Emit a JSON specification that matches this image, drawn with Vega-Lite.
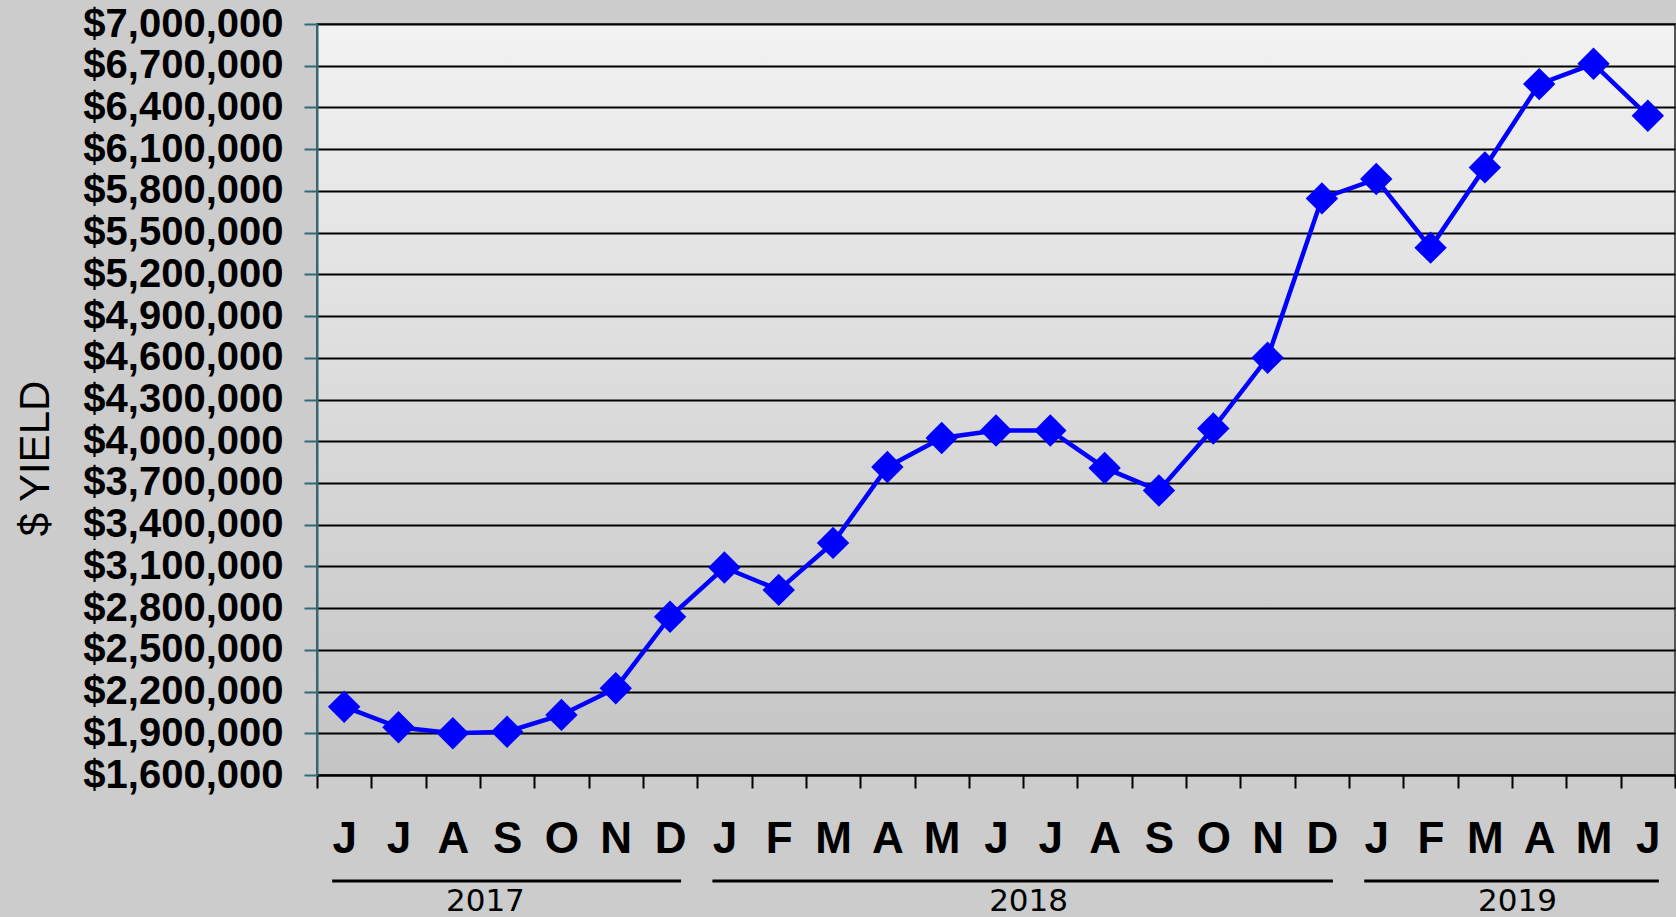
{
  "$schema": "https://vega.github.io/schema/vega-lite/v6.json",
  "width": 1358,
  "height": 751,
  "autosize": "none",
  "padding": {"left": 317, "top": 24, "right": 1, "bottom": 142},
  "background": "#cccccc",
  "config": {
    "view": {
      "stroke": "#555555",
      "strokeWidth": 2,
      "fill": {
        "gradient": "linear",
        "x1": 0, "y1": 0, "x2": 0, "y2": 1,
        "stops": [
          {"offset": 0, "color": "#f2f2f2"},
          {"offset": 1, "color": "#c4c4c4"}
        ]
      }
    }
  },
  "datasets": {
    "monthly": [
      {"month": "2017-06", "amount": 2091000},
      {"month": "2017-07", "amount": 1943000},
      {"month": "2017-08", "amount": 1900000},
      {"month": "2017-09", "amount": 1911000},
      {"month": "2017-10", "amount": 2032000},
      {"month": "2017-11", "amount": 2224000},
      {"month": "2017-12", "amount": 2738000},
      {"month": "2018-01", "amount": 3092000},
      {"month": "2018-02", "amount": 2931000},
      {"month": "2018-03", "amount": 3269000},
      {"month": "2018-04", "amount": 3815000},
      {"month": "2018-05", "amount": 4023000},
      {"month": "2018-06", "amount": 4077000},
      {"month": "2018-07", "amount": 4077000},
      {"month": "2018-08", "amount": 3808000},
      {"month": "2018-09", "amount": 3646000},
      {"month": "2018-10", "amount": 4092000},
      {"month": "2018-11", "amount": 4600000},
      {"month": "2018-12", "amount": 5746000},
      {"month": "2019-01", "amount": 5885000},
      {"month": "2019-02", "amount": 5392000},
      {"month": "2019-03", "amount": 5969000},
      {"month": "2019-04", "amount": 6568000},
      {"month": "2019-05", "amount": 6714000},
      {"month": "2019-06", "amount": 6340000}
    ],
    "years": [
      {"year": "2017", "first": "2017-06", "last": "2017-12", "labelAt": "2017-09"},
      {"year": "2018", "first": "2018-01", "last": "2018-12", "labelAt": "2018-07"},
      {"year": "2019", "first": "2019-01", "last": "2019-06", "labelAt": "2019-04"}
    ]
  },
  "layer": [
    {
      "data": {"name": "monthly"},
      "mark": {
        "type": "line",
        "color": "#0000ff",
        "strokeWidth": 4.5,
        "point": {"shape": "diamond", "size": 1050, "filled": true, "color": "#0000ff"}
      },
      "encoding": {
        "x": {
          "field": "month",
          "type": "ordinal",
          "title": null,
          "scale": {"type": "band", "paddingInner": 0, "paddingOuter": 0},
          "axis": {
            "orient": "bottom",
            "tickBand": "extent",
            "labelExpr": "isString(datum.value) && length(datum.value) >= 7 ? ['J','F','M','A','M','J','J','A','S','O','N','D'][toNumber(substring(datum.value, 5, 7)) - 1] : ''",
            "labelFont": "Liberation Sans",
            "labelFontSize": 44,
            "labelFontWeight": "bold",
            "labelColor": "#000000",
            "labelBaseline": "alphabetic",
            "labelPadding": 64,
            "labelAngle": 0,
            "labelOverlap": false,
            "tickSize": 13,
            "tickWidth": 2,
            "tickColor": "#000000",
            "domainColor": "#000000",
            "domainWidth": 2,
            "grid": false
          }
        },
        "y": {
          "field": "amount",
          "type": "quantitative",
          "scale": {"domain": [1600000, 7000000], "nice": false, "zero": false},
          "axis": {
            "orient": "left",
            "values": [1600000, 1900000, 2200000, 2500000, 2800000, 3100000, 3400000, 3700000, 4000000, 4300000, 4600000, 4900000, 5200000, 5500000, 5800000, 6100000, 6400000, 6700000, 7000000],
            "format": "$,.0f",
            "labelFont": "Liberation Sans",
            "labelFontSize": 40,
            "labelFontWeight": "bold",
            "labelColor": "#000000",
            "labelPadding": 21,
            "labelLimit": 400,
            "labelFlush": false,
            "labelOverlap": false,
            "labelBaseline": "middle",
            "tickSize": 13,
            "tickWidth": 2,
            "tickColor": "#2e6b7a",
            "domainColor": "#2e6b7a",
            "domainWidth": 2,
            "grid": true,
            "gridColor": "#000000",
            "gridWidth": 2,
            "gridOpacity": 1,
            "title": "$ YIELD",
            "titleFont": "Liberation Sans",
            "titleFontSize": 42,
            "titleFontWeight": "normal",
            "titleColor": "#000000",
            "titleAngle": 270,
            "titleX": -282,
            "titleY": 434,
            "titleAlign": "center",
            "titleBaseline": "middle"
          }
        }
      }
    },
    {
      "data": {"name": "years"},
      "mark": {"type": "rule", "color": "#000000", "strokeWidth": 3, "yOffset": 481.5, "xOffset": -12, "x2Offset": 11},
      "encoding": {
        "x": {"field": "first", "type": "ordinal", "title": null},
        "x2": {"field": "last"}
      }
    },
    {
      "data": {"name": "years"},
      "mark": {"type": "text", "font": "DejaVu Sans", "fontSize": 31, "color": "#000000", "align": "center", "baseline": "alphabetic", "yOffset": 511.5},
      "encoding": {
        "x": {"field": "labelAt", "type": "ordinal", "bandPosition": 0.1, "title": null},
        "text": {"field": "year"}
      }
    }
  ]
}
